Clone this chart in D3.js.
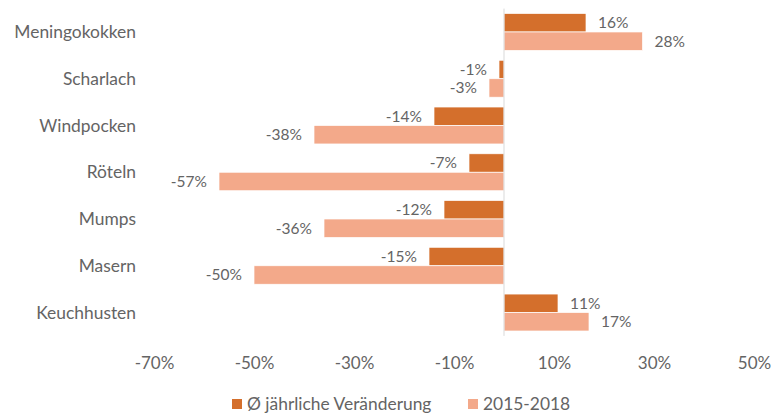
<!DOCTYPE html>
<html>
<head>
<meta charset="utf-8">
<script src="https://cdn.jsdelivr.net/npm/d3@7"></script>
<style>
  body { margin: 0; background: #fff; }
  svg text { font-family: Lato, "Noto Sans", sans-serif; fill: #646464; }
</style>
</head>
<body>
<svg id="chart" width="776" height="413"></svg>
<script>
// data
const categories = ["Meningokokken", "Scharlach", "Windpocken", "Röteln", "Mumps", "Masern", "Keuchhusten"];
const seriesNames = ["Ø jährliche Veränderung", "2015-2018"];
const yearlyChange = [16.4, -1, -14, -7, -12, -15, 10.8];
const change2015to2018 = [27.7, -3, -38, -57, -36, -50, 17];
const tickValues = [-70, -50, -30, -10, 10, 30, 50];

const colors = ["#D46F2C", "#F3A98A"];

const svg = d3.select("#chart");

const x = d3.scaleLinear().domain([-70, 50]).range([154, 754]);
const y = d3.scaleBand().domain(categories).range([8.6, 335.9])
    .paddingInner(0.21).paddingOuter(0.105);
const ySub = d3.scaleBand().domain([0, 1]).range([0, y.bandwidth()]);

const rows = categories.map((c, i) => ({ cat: c, values: [yearlyChange[i], change2015to2018[i]] }));

// bars
const groups = svg.append("g").selectAll("g")
    .data(rows)
    .join("g")
    .attr("transform", d => `translate(0,${y(d.cat)})`);

groups.selectAll("rect")
    .data(d => d.values.map((v, k) => ({ v, k })))
    .join("rect")
    .attr("x", d => x(Math.min(0, d.v)))
    .attr("width", d => Math.abs(x(d.v) - x(0)))
    .attr("y", d => ySub(d.k))
    .attr("height", ySub.bandwidth())
    .attr("fill", d => colors[d.k])
    .attr("stroke", "#fff")
    .attr("stroke-width", 0.7);

// value labels
groups.selectAll("text")
    .data(d => d.values.map((v, k) => ({ v, k })))
    .join("text")
    .attr("x", d => d.v >= 0 ? x(d.v) + 12 : x(d.v) - 12)
    .attr("y", d => ySub(d.k) + ySub.bandwidth() / 2)
    .attr("dy", "0.35em")
    .attr("text-anchor", d => d.v >= 0 ? "start" : "end")
    .style("font-size", "15.5px")
    .text(d => Math.round(d.v) + "%");

// zero line
svg.append("line")
    .attr("x1", x(0)).attr("x2", x(0))
    .attr("y1", 8.6).attr("y2", 335.9)
    .attr("stroke", "#D9D9D9")
    .attr("stroke-width", 1);

// category labels
svg.append("g").selectAll("text")
    .data(categories)
    .join("text")
    .attr("x", 136)
    .attr("y", d => y(d) + y.bandwidth() / 2)
    .attr("dy", "0.35em")
    .attr("text-anchor", "end")
    .style("font-size", "17.4px")
    .text(d => d);

// x axis
const xAxis = svg.append("g")
    .attr("transform", "translate(0,354)")
    .call(d3.axisBottom(x).tickValues(tickValues).tickFormat(d => d + "%").tickSize(0));
xAxis.select(".domain").remove();
xAxis.selectAll("text")
    .style("font-size", "17px")
    .style("font-family", "Lato, 'Noto Sans', sans-serif")
    .attr("fill", "#646464");

// legend
const legendX = [232, 468];
const legend = svg.append("g").selectAll("g")
    .data(seriesNames)
    .join("g")
    .attr("transform", (d, i) => `translate(${legendX[i]},399)`);
legend.append("rect")
    .attr("width", 10).attr("height", 10)
    .attr("fill", (d, i) => colors[i]);
legend.append("text")
    .attr("x", 15)
    .attr("y", 10.5)
    .style("font-size", "17.4px")
    .text(d => d);
</script>
</body>
</html>
